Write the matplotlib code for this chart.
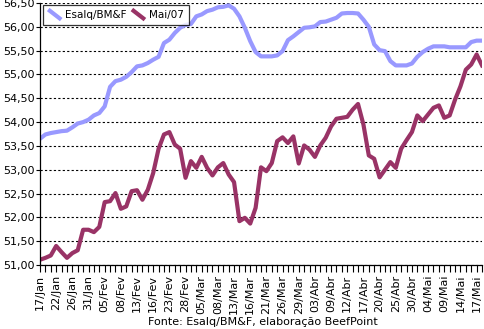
import numpy as np
import matplotlib
matplotlib.use("Agg")
from matplotlib import pyplot as plt
from matplotlib.lines import Line2D
from matplotlib.legend_handler import HandlerBase
from matplotlib.ticker import FuncFormatter, MultipleLocator

# daily prices, R$/@ (business days, 17/Jan to 18/Mai)
esalq = [53.65, 53.74, 53.77, 53.79, 53.81, 53.82, 53.89, 53.97, 54.00, 54.05,
         54.14, 54.19, 54.33, 54.74, 54.86, 54.89, 54.95, 55.05, 55.17, 55.19,
         55.24, 55.31, 55.37, 55.66, 55.73, 55.87, 55.98, 56.04, 56.06, 56.22,
         56.26, 56.33, 56.36, 56.41, 56.42, 56.45, 56.38, 56.22, 55.98, 55.70,
         55.47, 55.38, 55.38, 55.38, 55.40, 55.49, 55.72, 55.80, 55.89, 55.98,
         55.99, 56.01, 56.10, 56.11, 56.15, 56.19, 56.28, 56.29, 56.29, 56.28,
         56.15, 56.00, 55.63, 55.51, 55.49, 55.28, 55.19, 55.19, 55.19, 55.23,
         55.37, 55.47, 55.54, 55.59, 55.59, 55.59, 55.57, 55.57, 55.57, 55.57,
         55.68, 55.71, 55.71]

mai07 = [51.11, 51.15, 51.20, 51.40, 51.27, 51.15, 51.25, 51.31, 51.74, 51.74,
         51.69, 51.80, 52.32, 52.34, 52.51, 52.18, 52.23, 52.55, 52.57, 52.37,
         52.58, 52.93, 53.44, 53.74, 53.79, 53.53, 53.44, 52.83, 53.18, 53.04,
         53.27, 53.04, 52.88, 53.05, 53.14, 52.90, 52.74, 51.92, 51.99, 51.87,
         52.20, 53.05, 52.97, 53.14, 53.60, 53.68, 53.56, 53.70, 53.13, 53.51,
         53.42, 53.27, 53.51, 53.67, 53.91, 54.07, 54.09, 54.11, 54.26, 54.38,
         53.95, 53.30, 53.23, 52.84, 53.00, 53.16, 53.04, 53.44, 53.62, 53.79,
         54.14, 54.02, 54.16, 54.30, 54.35, 54.09, 54.14, 54.47, 54.75, 55.10,
         55.21, 55.42, 55.19]

date_labels = ["17/Jan", "22/Jan", "26/Jan", "31/Jan", "05/Fev", "08/Fev",
               "13/Fev", "16/Fev", "23/Fev", "28/Fev", "05/Mar", "08/Mar",
               "13/Mar", "16/Mar", "21/Mar", "26/Mar", "29/Mar", "03/Abr",
               "09/Abr", "12/Abr", "17/Abr", "20/Abr", "25/Abr", "30/Abr",
               "04/Mai", "09/Mai", "14/Mai", "17/Mai"]

BLUE = "#9999ff"
PURPLE = "#993366"


class SlashHandler(HandlerBase):
    # excel style legend key: a short diagonal stroke
    def create_artists(self, legend, orig_handle, xdescent, ydescent,
                       width, height, fontsize, trans):
        x0, x1 = -xdescent, -xdescent + width
        y0, y1 = -ydescent - 1, -ydescent + height + 1
        line = Line2D([x0, x1], [y1, y0], color=orig_handle.get_color(),
                      lw=orig_handle.get_linewidth(), solid_capstyle="butt",
                      transform=trans)
        return [line]


def main():
    plt.rcParams["font.family"] = "DejaVu Sans"

    fig = plt.figure(figsize=(4.84, 3.29), dpi=100)
    ax = fig.add_axes([40 / 484, 64 / 329, 442 / 484, 262 / 329])

    x = np.arange(len(esalq))
    l1, = ax.plot(x, esalq, color=BLUE, lw=3, label="Esalq/BM&F")
    l2, = ax.plot(x, mai07, color=PURPLE, lw=3, label="Mai/07")

    ax.set_xlim(0, len(esalq) - 1)
    ax.set_ylim(51.0, 56.5)
    ax.yaxis.set_major_locator(MultipleLocator(0.5))
    ax.yaxis.set_major_formatter(
        FuncFormatter(lambda v, p: f"{v:.2f}".replace(".", ",")))

    ax.set_xticks(np.arange(0, len(esalq), 3))
    ax.set_xticklabels(date_labels, rotation=90)
    ax.set_xticks(x, minor=True)

    ax.tick_params(axis="y", length=3, width=0.8, labelsize=8, pad=1,
                   color="black")
    ax.tick_params(axis="x", which="both", length=5, width=0.8, labelsize=8,
                   pad=2)

    ax.grid(axis="y", color="black", linestyle=(0, (2, 2)), lw=0.8)
    ax.set_axisbelow(True)

    for side in ("top", "right"):
        ax.spines[side].set_visible(False)
    for side in ("left", "bottom"):
        ax.spines[side].set_linewidth(0.9)
        ax.spines[side].set_color("black")

    leg = ax.legend(handles=[l1, l2], loc="upper left",
                    bbox_to_anchor=(3 / 442, 1 - 2 / 262), ncol=2,
                    handler_map={Line2D: SlashHandler()},
                    fontsize=7.5, frameon=True, fancybox=False,
                    borderaxespad=0, handlelength=1.25, handletextpad=0.38,
                    columnspacing=0.5, borderpad=0.5)
    leg.get_frame().set_edgecolor("black")
    leg.get_frame().set_linewidth(0.9)

    fig.text(263 / 484, 1 - 322 / 329, "Fonte: Esalq/BM&F, elaboração BeefPoint",
             ha="center", va="center", fontsize=8)

    fig.savefig("out.png", dpi=100)


if __name__ == "__main__":
    main()
